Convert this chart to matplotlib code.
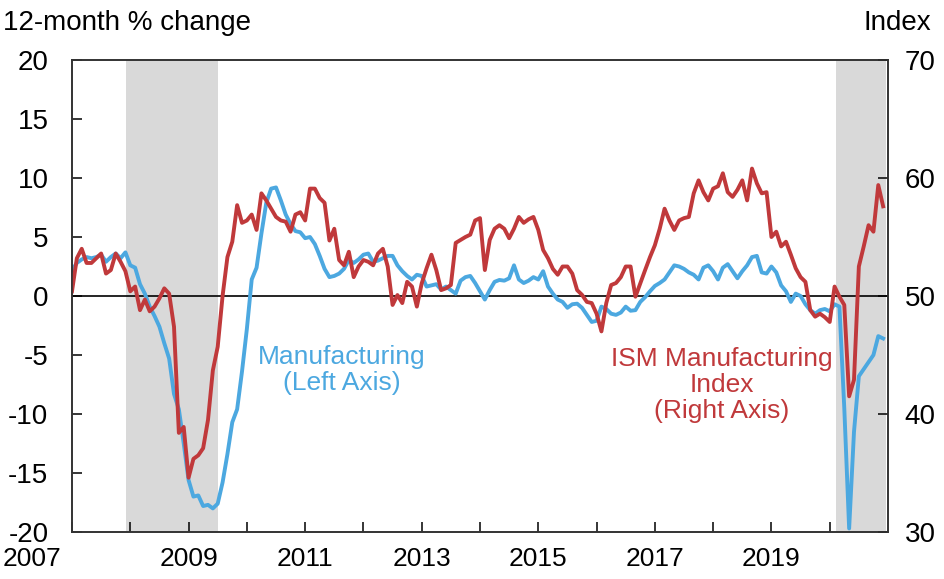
import numpy as np
import pandas as pd
import matplotlib
matplotlib.use("Agg")
import matplotlib.pyplot as plt
import matplotlib.transforms as mtransforms

# ---------------- data (monthly, month-end, Dec 2006 .. Nov 2020) ----------------
start_date = "2006-12-31"

# Manufacturing output, 12-month % change (left axis)
manufacturing = [
    2.2, 2.8, 3.1, 3.3, 3.2, 3.3, 3.5, 2.9, 3.3, 3.6, 3.2, 3.7,
    2.6, 2.4, 1.0, 0.2, -0.9, -1.7, -2.6, -4.0, -5.3, -8.3, -9.6, -12.5,
    -15.6, -17.0, -16.9, -17.8, -17.7, -18.0, -17.6, -15.8, -13.4, -10.7, -9.6, -6.4,
    -2.8, 1.4, 2.4, 5.3, 7.9, 9.1, 9.2, 8.1, 6.9, 6.1, 5.5, 5.4,
    4.9, 5.0, 4.4, 3.4, 2.3, 1.6, 1.7, 1.9, 2.3, 3.05, 2.8, 3.1,
    3.5, 3.6, 2.9, 3.0, 3.2, 3.4, 3.4, 2.6, 2.1, 1.7, 1.4, 1.8,
    1.7, 0.8, 0.9, 1.0, 0.55, 0.8, 0.5, 0.2, 1.3, 1.6, 1.7, 1.1,
    0.4, -0.3, 0.5, 1.2, 1.36, 1.3, 1.5, 2.6, 1.4, 1.1, 1.3, 1.6,
    1.4, 2.1, 0.8, 0.2, -0.3, -0.5, -1.0, -0.7, -0.65, -1.0, -1.6, -2.2,
    -2.1, -0.9, -1.1, -1.5, -1.6, -1.4, -0.9, -1.25, -1.2, -0.5, -0.1, 0.4,
    0.85, 1.1, 1.4, 2.0, 2.6, 2.5, 2.3, 2.0, 1.8, 1.4, 2.4, 2.6,
    2.1, 1.4, 2.4, 2.7, 2.1, 1.5, 2.1, 2.6, 3.3, 3.4, 2.0, 1.9,
    2.5, 2.0, 0.9, 0.4, -0.5, 0.2, 0.0, -0.7, -1.2, -1.5, -1.2, -1.1,
    -1.3, -0.7, -0.9, -9.5, -19.7, -11.5, -6.8, -6.2, -5.6, -5.0, -3.4, -3.6,
]

# ISM Manufacturing Index (right axis)
ism = [
    50.4, 53.2, 54.0, 52.8, 52.8, 53.2, 53.6, 51.9, 52.2, 53.6, 52.9, 52.1,
    50.4, 50.8, 48.8, 49.7, 48.7, 49.1, 49.8, 50.65, 50.2, 47.4, 38.4, 38.9,
    34.6, 36.2, 36.5, 37.1, 39.5, 43.7, 45.7, 50.0, 53.3, 54.6, 57.7, 56.2,
    56.4, 56.9, 55.6, 58.7, 58.1, 57.4, 56.7, 56.4, 56.3, 55.45, 56.9, 57.1,
    56.4, 59.1, 59.1, 58.3, 57.9, 54.7, 55.7, 53.05, 52.6, 53.75, 51.6, 52.5,
    53.05, 52.9, 52.6, 53.6, 54.0, 52.5, 49.24, 50.08, 49.4, 51.2, 50.8, 49.1,
    51.07, 52.35, 53.5, 52.2, 50.5, 50.65, 50.93, 54.5, 54.75, 55.0, 55.2, 56.4,
    56.6, 52.2, 54.75, 55.7, 56.0, 55.7, 54.9, 55.7, 56.7, 56.2, 56.5, 56.7,
    55.6, 53.9, 53.2, 52.3, 51.8, 52.5, 52.5, 51.9, 50.5, 50.1, 49.5, 49.4,
    48.5, 47.0, 49.4, 50.93, 51.1, 51.6, 52.5, 52.5, 49.94, 51.07, 52.2, 53.3,
    54.3, 55.7, 57.4, 56.4, 55.6, 56.4, 56.6, 56.7, 58.7, 59.8, 58.8, 58.1,
    59.1, 59.3, 60.4, 58.8, 58.4, 59.0, 59.8, 58.1, 60.8, 59.55, 58.7, 58.8,
    55.0, 55.45, 54.2, 54.6, 53.5, 52.35, 51.6, 51.2, 48.8, 48.25, 48.5, 48.2,
    47.8, 50.8, 49.94, 49.24, 41.5, 42.9, 52.5, 54.2, 56.0, 55.45, 59.4, 57.6,
]

# recession periods (decimal years)
rec_start = [2007.92, 2020.10]
rec_end = [2009.50, 2020.96]

left_ticks = [-20, -15, -10, -5, 0, 5, 10, 15, 20]
right_ticks = [30, 40, 50, 60, 70]
year_labels = [2007, 2009, 2011, 2013, 2015, 2017, 2019]
year_minor = [2008, 2010, 2012, 2014, 2016, 2018, 2020]

# ---------------- figure ----------------
BLUE = "#4ca8e0"
RED = "#c0393b"
SHADE = "#d9d9d9"
FS = 20

plt.rcParams["font.family"] = ["Liberation Sans", "DejaVu Sans"]

dates = pd.date_range(start_date, periods=len(ism), freq="ME")
x = dates.year + dates.month / 12.0

fig = plt.figure(figsize=(9.45, 5.79), dpi=100)
W, H = 945, 579
ax = fig.add_axes([72 / W, 1 - 532 / H, (888 - 72) / W, (532 - 60) / H])
ax2 = ax.twinx()

for s, e in zip(rec_start, rec_end):
    ax.axvspan(s, e, color=SHADE, lw=0, zorder=0)
ax.axhline(0, color="black", lw=1.2, zorder=1)
ax.plot(x, manufacturing, color=BLUE, lw=2.8, zorder=2, solid_joinstyle="round")
ax2.plot(x, ism, color=RED, lw=2.8, solid_joinstyle="round")

ax.set_xlim(2007, 2021)
ax.set_ylim(-20, 20)
ax2.set_ylim(30, 70)

ax.set_yticks(left_ticks)
ax.set_yticklabels([str(v) for v in left_ticks])
ax2.set_yticks(right_ticks)
ax2.set_yticklabels([str(v) for v in right_ticks])
ax.set_xticks(year_labels)
ax.set_xticklabels([str(v) for v in year_labels])
ax.set_xticks(year_minor, minor=True)

ax.tick_params(axis="x", which="both", direction="in", length=7, width=1.1,
               labelsize=19, pad=10.5, top=False)
ax.tick_params(axis="y", direction="in", length=7, width=1.1, labelsize=FS, pad=17)
ax2.tick_params(axis="y", direction="in", length=7, width=1.1, labelsize=FS, pad=12)

for a in (ax, ax2):
    for sp in a.spines.values():
        sp.set_color("#333333")
        sp.set_linewidth(1.2)

# shift the first year label to the left as in the reference
lbl0 = ax.get_xticklabels()[0]
lbl0.set_transform(lbl0.get_transform() +
                   mtransforms.ScaledTranslation(-40 / 100, 0, fig.dpi_scale_trans))

fig.text(3 / W, 1 - 23 / H, "12-month % change", fontsize=FS, ha="left", va="center")
fig.text(931 / W, 1 - 23 / H, "Index", fontsize=FS, ha="right", va="center")

ax.text(2011.63, -6.3, "Manufacturing\n(Left Axis)", color=BLUE, fontsize=19,
        ha="center", va="center", linespacing=1.12, zorder=3)
ax.text(2018.15, -7.55, "ISM Manufacturing\nIndex\n(Right Axis)", color=RED, fontsize=19,
        ha="center", va="center", linespacing=1.12, zorder=3)

fig.savefig("out.png", dpi=100)
